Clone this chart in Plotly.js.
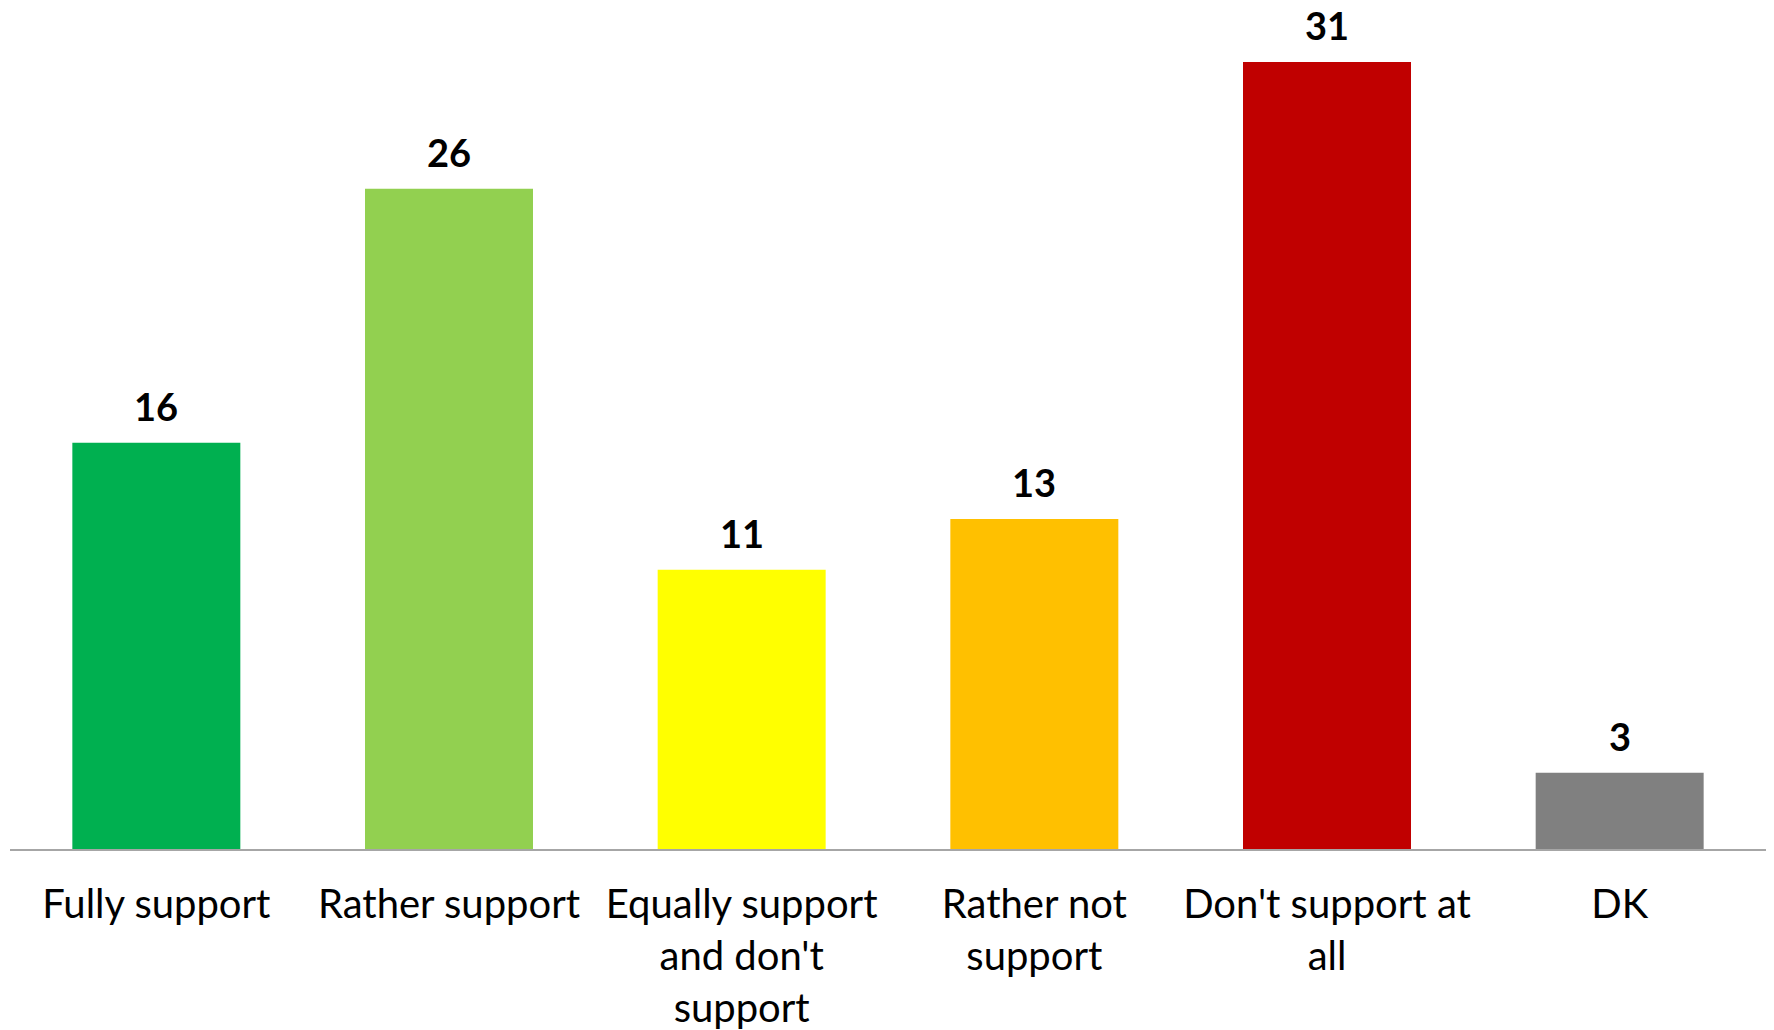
<!DOCTYPE html>
<html>
<head>
<meta charset="utf-8">
<script src="https://cdn.plot.ly/plotly-3.0.1.min.js"></script>
<style>html,body{margin:0;padding:0;background:#fff;}#chart{width:1774px;height:1030px;}</style>
</head>
<body>
<div id="chart"></div>
<script>
const categories = ["Fully support", "Rather support", "Equally support<br>and don't<br>support", "Rather not<br>support", "Don't support at<br>all", "DK"];
const values = [16, 26, 11, 13, 31, 3];
const barColors = ["#00B050", "#92D050", "#FFFF00", "#FFC000", "#C00000", "#808080"];

const trace = {
  type: "bar",
  x: categories,
  y: values,
  marker: {color: barColors},
  cliponaxis: false,
  hoverinfo: "none"
};

const labelFont = {family: "Lato, 'Open Sans', sans-serif", size: 38, color: "#000", weight: "bold"};
const annotations = categories.map((c, i) => ({
  x: c,
  y: values[i],
  xref: "x",
  yref: "y",
  text: String(values[i]),
  showarrow: false,
  yanchor: "bottom",
  yshift: 12,
  font: labelFont
}));

const layout = {
  width: 1774,
  height: 1030,
  margin: {l: 10, r: 8, t: 20, b: 181},
  paper_bgcolor: "#fff",
  plot_bgcolor: "#fff",
  bargap: 0.426,
  showlegend: false,
  annotations: annotations,
  xaxis: {
    type: "category",
    showline: true,
    linecolor: "#A6A6A6",
    linewidth: 2,
    ticks: "",
    tickfont: {family: "Lato, 'Open Sans', sans-serif", size: 40, color: "#000"},
    ticklabelstandoff: 19,
    showgrid: false,
    zeroline: false
  },
  yaxis: {
    range: [0, 32.65],
    visible: false,
    showgrid: false,
    zeroline: false
  }
};

Plotly.newPlot("chart", [trace], layout, {displayModeBar: false, staticPlot: true});
</script>
</body>
</html>
